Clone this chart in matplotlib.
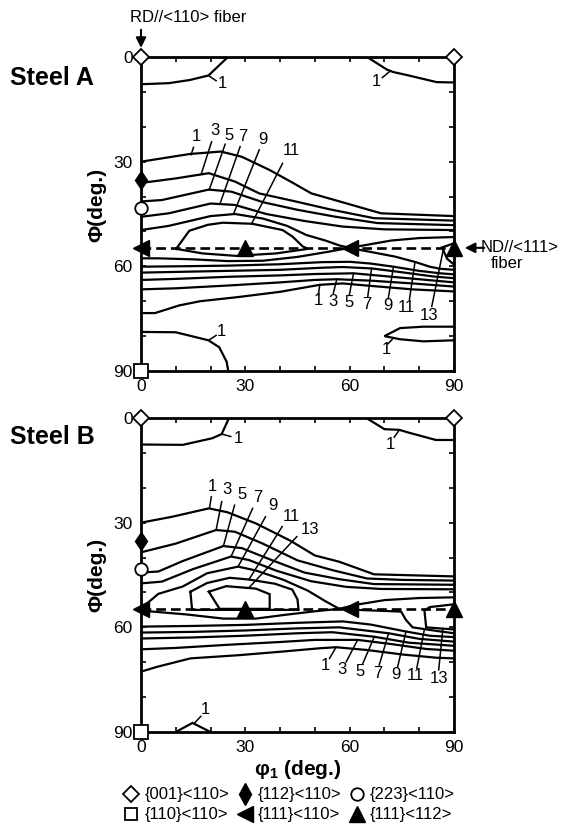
import matplotlib
matplotlib.use('Agg')
import matplotlib.pyplot as plt
from matplotlib.lines import Line2D

plt.rcParams['font.family'] = ['Liberation Sans', 'DejaVu Sans']
plt.rcParams['mathtext.fontset'] = 'custom'
plt.rcParams['mathtext.rm'] = 'Liberation Sans'
plt.rcParams['mathtext.bf'] = 'Liberation Sans:bold'
plt.rcParams['lines.scale_dashes'] = False

# ---------------- data (phi1, PHI) in degrees ----------------
gamma_phi = 54.7
ori_001_110 = [(0, 0), (90, 0)]
ori_112_110 = [(0, 35.3)]
ori_223_110 = [(0, 43.3)]
ori_110_110 = [(0, 90)]
ori_111_110 = [(0, 54.7), (60, 54.7)]
ori_111_112 = [(30, 54.7), (90, 54.7)]

# Steel A contour lines
A_tl1 = [(0, 7.8), (8, 7.5), (14, 6.6), (19.4, 5.3), (25, 0)]
A_tr1 = [(65, 0), (70.7, 3.6), (72.5, 4.3), (77, 5.3), (85, 7.2), (90, 7.3)]
A_bl1 = [(0, 78.8), (10, 78.9), (19.4, 81.2), (22.5, 83.2), (24.6, 87.3), (25.1, 90)]
A_br1 = [(90, 77.3), (81.2, 77.3), (74.5, 77.7), (70, 80.0), (74.5, 80.9), (81.2, 81.5), (90, 81.2)]
A_u1 = [(0, 30.0), (14, 27.8), (23, 27.1), (29, 28.6), (37, 32.4), (43, 35.7), (49, 39.1), (55, 40.8), (69, 44.8), (90, 45.6)]
A_u3 = [(0, 36.1), (10, 34.8), (19.5, 33.3), (27, 35.7), (34, 39.1), (44, 41.3), (54, 43.6), (67, 46.2), (90, 46.9)]
A_u5 = [(0, 41.4), (6, 41.0), (19.5, 38.0), (26, 38.6), (35, 41.6), (45, 43.8), (56, 45.8), (68, 47.6), (90, 48.2)]
A_u7 = [(0, 45.8), (8, 44.8), (20, 42.0), (27, 42.4), (36, 45.0), (47, 47.0), (58, 48.6), (70, 49.4), (90, 49.6)]
A_u9 = [(0, 49.6), (8, 48.4), (20, 45.6), (27, 45.0), (35, 46.3), (42, 48.4), (47.5, 51.0), (53, 52.6), (57, 54.0), (60, 54.7)]
A_11 = [(10.1, 55), (13.9, 49.8), (19.2, 48.1), (23.5, 47.5), (32, 47.8), (40.7, 49.6), (43.6, 51.5), (46.5, 54.3),
        (48, 55), (43, 55.7), (38.8, 56.3), (27.3, 57.0), (17.7, 56.3), (10.1, 55)]
A_xur = [(60, 54.7), (64, 54.0), (72, 52.6), (80, 51.9), (90, 51.6)]
A_xll = [(60, 54.7), (54, 55.8), (45, 57.3), (35, 58.4), (25, 58.5), (15, 58.0), (5, 57.7), (0, 57.7)]
A_xlr = [(60, 54.7), (63, 55.3), (73, 57.2), (79, 58.8), (83, 60.1), (86, 60.7), (90, 61.0)]
A_13 = [(90, 53.4), (86.5, 54.6), (86.9, 55.3), (88, 57.8), (90, 59.5)]
A_l9 = [(0, 60.1), (10, 60.0), (25, 59.8), (40, 59.4), (52, 58.8), (60, 58.7), (66, 59.2), (72.6, 60.1), (80, 61.3), (86, 62.0), (90, 62.3)]
A_l7 = [(0, 61.8), (10, 61.6), (25, 61.3), (40, 61.0), (52, 60.4), (58, 60.2), (66.3, 60.6), (75, 61.7), (84, 62.9), (90, 63.4)]
A_l5 = [(0, 63.9), (10, 63.6), (25, 63.0), (40, 62.6), (50, 62.2), (61.1, 62.0), (70, 62.8), (80, 63.7), (90, 64.6)]
A_l3 = [(0, 66.6), (10, 66.3), (25, 65.5), (40, 64.6), (50, 63.9), (56.3, 63.7), (66, 64.1), (78, 64.9), (90, 65.8)]
A_l1 = [(0, 73.4), (4, 73.4), (11, 71.2), (17, 70.0), (28, 68.8), (40, 67.3), (51.4, 65.3), (58, 64.9), (66, 65.6), (78, 66.6), (90, 67.2)]

# Steel B contour lines
B_tl1 = [(0, 7.6), (12, 7.7), (20.5, 5.8), (23.2, 4.6), (25.3, 0)]
B_tr1 = [(64.8, 0), (70, 3.2), (74.3, 3.4), (77, 4.2), (84.8, 6.3), (90, 6.3)]
B_bl1 = [(10, 90), (14.8, 87.4), (20, 90)]
B_u1 = [(0, 30.0), (9, 28.3), (19.5, 25.9), (24.8, 27.0), (33, 30.2), (43, 35.2), (50, 39.4), (57, 41.2), (67, 44.8), (90, 45.4)]
B_u3 = [(0, 38.5), (10, 36.0), (21.6, 32.1), (27, 32.6), (35, 36.0), (45, 40.8), (55, 43.6), (65, 46.0), (75, 46.4), (90, 46.6)]
B_u5 = [(0, 44.3), (5, 44.0), (12, 41.0), (23.7, 36.7), (29, 37.3), (37, 40.5), (47, 44.3), (57, 46.2), (67, 47.6), (90, 47.8)]
B_u7 = [(0, 47.4), (6, 46.9), (15, 43.3), (25.9, 39.7), (31, 40.7), (39, 43.8), (49, 46.8), (59, 48.4), (69, 49.0), (90, 49.1)]
B_u9 = [(0, 54.7), (2.5, 52.5), (5, 50.4), (12, 48.3), (19, 44.5), (27.9, 42.6), (33, 43.7), (41, 46.4), (48, 49.5), (53, 52.5), (57, 54.7)]
B_11 = [(14.2, 49.8), (19, 47.3), (25.5, 45.8), (31, 46.3), (38.5, 47.5), (43.5, 49.2), (45, 52), (45.3, 55.0), (14.7, 55.0), (14.2, 49.8)]
B_13 = [(19.5, 49.8), (24.5, 48.2), (33, 48.9), (37, 50.5), (37, 54.7), (22.6, 54.7), (19.5, 49.8)]
B_xur = [(57, 54.7), (62, 53.5), (70, 52.2), (80, 51.6), (90, 51.4)]
B_xll = [(57, 54.7), (50, 55.4), (41.6, 56.4), (33, 57.5), (23.7, 57.5), (13, 56.3), (0, 55.2)]
B_r11 = [(57, 54.7), (62, 55.0), (70, 55.3), (74.8, 55.5), (76.2, 57.9), (78.1, 60.0), (84.8, 61.0), (90, 61.7)]
B_r13 = [(90, 53.4), (83, 54.2), (81.5, 55.2), (82, 60.0), (85.8, 60.3), (90, 60.6)]
B_l9 = [(0, 59.8), (15, 59.6), (30, 59.3), (45, 58.7), (58, 58.3), (66, 59.2), (76.2, 61.2), (83, 62.4), (90, 62.8)]
B_l7 = [(0, 61.5), (15, 61.3), (30, 60.9), (45, 60.3), (57, 60.0), (71.2, 61.7), (80, 63.3), (90, 64.1)]
B_l5 = [(0, 63.2), (15, 62.9), (30, 62.4), (45, 61.7), (55, 61.4), (67.1, 62.7), (77, 64.4), (90, 65.3)]
B_l3 = [(0, 66.3), (10, 65.9), (25, 65.0), (40, 64.2), (50, 63.6), (62.3, 63.6), (72, 64.8), (82, 66.2), (90, 66.7)]
B_l1 = [(0, 72.7), (4.7, 71.3), (14.2, 68.9), (27.9, 68.0), (40, 67.0), (51.4, 66.0), (56.1, 65.7), (65, 66.5), (75.3, 67.8), (84.8, 68.7), (90, 68.9)]

steelA_lines = [A_tl1, A_tr1, A_bl1, A_br1, A_u1, A_u3, A_u5, A_u7, A_u9, A_11, A_xur, A_xll, A_xlr, A_13,
                A_l9, A_l7, A_l5, A_l3, A_l1]
steelB_lines = [B_tl1, B_tr1, B_bl1, B_u1, B_u3, B_u5, B_u7, B_u9, B_11, B_13, B_xur, B_xll, B_r11, B_r13,
                B_l9, B_l7, B_l5, B_l3, B_l1]

# contour level labels: (text, label position, leader start, leader end)
A_labels = [
    ('1', (23.5, 7.5), (21.6, 6.8), (19.4, 5.3)),
    ('1', (67.6, 7.1), (69.4, 5.9), (71.7, 4.0)),
    ('1', (23.2, 78.7), (21.6, 79.8), (19.4, 81.2)),
    ('1', (70.5, 83.8), (71.0, 82.2), (72.2, 81.0)),
    ('1', (16.0, 22.8), (15.1, 25.9), (14.4, 28.0)),
    ('3', (21.3, 21.2), (20.3, 24.3), (17.3, 33.6)),
    ('5', (25.3, 22.4), (24.2, 25.0), (19.6, 38.1)),
    ('7', (29.4, 22.8), (28.5, 25.7), (22.7, 42.1)),
    ('9', (35.2, 23.6), (34.0, 26.6), (26.6, 45.0)),
    ('11', (43.3, 26.9), (40.7, 30.5), (31.8, 47.8)),
    ('1', (51.0, 69.8), (51.0, 68.2), (51.4, 65.3)),
    ('3', (55.1, 70.0), (55.3, 67.7), (56.3, 63.7)),
    ('5', (59.9, 70.5), (59.9, 68.2), (61.1, 62.0)),
    ('7', (64.9, 70.8), (65.2, 68.7), (66.3, 60.6)),
    ('9', (70.9, 71.3), (71.1, 69.2), (72.6, 60.1)),
    ('11', (76.4, 71.7), (77.2, 69.4), (78.8, 58.7)),
    ('13', (82.9, 74.1), (83.6, 71.5), (86.9, 55.3)),
]
B_labels = [
    ('1', (27.9, 5.8), (25.8, 5.3), (23.2, 4.6)),
    ('1', (71.6, 7.5), (72.8, 5.5), (74.3, 3.4)),
    ('1', (18.4, 83.5), (17.2, 85.5), (15.5, 87.3)),
    ('1', (20.5, 19.5), (20.2, 22.6), (19.7, 25.9)),
    ('3', (24.8, 20.4), (23.2, 24.0), (21.6, 32.1)),
    ('5', (29.1, 21.9), (26.9, 25.0), (23.7, 36.7)),
    ('7', (33.5, 22.8), (32.1, 25.9), (25.9, 39.7)),
    ('9', (38.0, 25.2), (35.8, 28.3), (27.9, 42.6)),
    ('11', (43.2, 28.1), (40.6, 31.1), (31.1, 46.2)),
    ('13', (48.5, 31.9), (44.8, 34.0), (31.1, 48.6)),
    ('1', (53.0, 71.0), (54.2, 68.9), (56.1, 65.7)),
    ('3', (57.8, 72.2), (59.0, 69.9), (62.3, 63.6)),
    ('5', (63.1, 72.7), (63.8, 70.3), (67.1, 62.7)),
    ('7', (68.1, 73.1), (68.5, 70.8), (71.2, 61.7)),
    ('9', (73.3, 73.6), (73.8, 71.3), (76.2, 61.2)),
    ('11', (78.9, 73.8), (79.3, 71.7), (81.5, 60.5)),
    ('13', (85.6, 74.8), (85.6, 72.2), (86.8, 60.4)),
]

tick_positions = list(range(0, 91, 10))
tick_labels = ['0' if t == 0 else (str(t) if t % 30 == 0 else '') for t in tick_positions]

legend_labels = ['{001}<110>', '{110}<110>', '{112}<110>', '{111}<110>', '{223}<110>', '{111}<112>']

# ---------------- figure ----------------
W, H = 576, 834
fig = plt.figure(figsize=(W / 100, H / 100), dpi=100)


def px_axes(left, top, right, bottom):
    return fig.add_axes([left / W, 1 - bottom / H, (right - left) / W, (bottom - top) / H])


def draw_panel(ax, lines, labels, ylabel_y):
    ax.set_xlim(0, 90)
    ax.set_ylim(90, 0)
    for ln in lines:
        xs = [p[0] for p in ln]
        ys = [p[1] for p in ln]
        ax.plot(xs, ys, color='black', lw=1.6, solid_joinstyle='miter', zorder=2)
    for txt, pos, l0, l1 in labels:
        ax.plot([l0[0], l1[0]], [l0[1], l1[1]], color='black', lw=1.1, zorder=2)
        ax.text(pos[0], pos[1], txt, ha='center', va='center', fontsize=12, zorder=3)
    # gamma fibre dashed line
    ax.plot([0, 90], [gamma_phi, gamma_phi], color='black', lw=1.9, dashes=(7, 3.6), zorder=3)
    # ideal orientations
    kw = dict(clip_on=False, zorder=5, linestyle='none')
    ax.plot(*zip(*ori_001_110), marker='D', ms=7.8, mfc='white', mec='black', mew=1.3, **kw)
    ax.plot(*zip(*ori_112_110), marker='d', ms=9.5, mfc='black', mec='black', **kw)
    ax.plot(*zip(*ori_223_110), marker='o', ms=9, mfc='white', mec='black', mew=1.3, **kw)
    ax.plot(*zip(*ori_110_110), marker='s', ms=9.5, mfc='white', mec='black', mew=1.3, **kw)
    ax.plot(*zip(*ori_111_110), marker='<', ms=11.5, mfc='black', mec='black', **kw)
    ax.plot(*zip(*ori_111_112), marker='^', ms=11.5, mfc='black', mec='black', **kw)

    ax.set_xticks(tick_positions)
    ax.set_xticklabels(tick_labels)
    ax.set_yticks(tick_positions)
    ax.set_yticklabels(tick_labels)
    ax.tick_params(direction='in', length=3.5, width=1.2, top=True, right=True, labelsize=12.5, pad=6)
    for sp in ax.spines.values():
        sp.set_linewidth(2.0)
    ax.set_ylabel('Φ(deg.)', fontsize=15, fontweight='bold')
    ax.yaxis.set_label_coords(-0.112, ylabel_y)


axA = px_axes(141, 57, 454, 371)
draw_panel(axA, steelA_lines, A_labels, 0.53)
axB = px_axes(141, 418, 454, 732)
draw_panel(axB, steelB_lines, B_labels, 0.50)
axB.set_xlabel('φ$_{\\mathbf{1}}$ (deg.)', fontsize=15, fontweight='bold', labelpad=2)

fig.text(52 / W, 1 - 78 / H, 'Steel A', ha='center', va='center', fontsize=18, fontweight='bold')
fig.text(52 / W, 1 - 437 / H, 'Steel B', ha='center', va='center', fontsize=18, fontweight='bold')

# fibre annotations
fig.text(188 / W, 1 - 18 / H, 'RD//<110> fiber', ha='center', va='center', fontsize=12)
axA.annotate('', xy=(0, -1.8), xytext=(0, -8.6), xycoords='data', textcoords='data',
             arrowprops=dict(arrowstyle='-|>', color='black', lw=1.5, mutation_scale=15), annotation_clip=False)
fig.text(481 / W, 1 - 248 / H, 'ND//<111>', ha='left', va='center', fontsize=12)
fig.text(491 / W, 1 - 264 / H, 'fiber', ha='left', va='center', fontsize=12)
axA.annotate('', xy=(92.3, gamma_phi), xytext=(99.5, gamma_phi), xycoords='data', textcoords='data',
             arrowprops=dict(arrowstyle='-|>', color='black', lw=1.5, mutation_scale=15), annotation_clip=False)

# legend
handles = [
    Line2D([], [], ls='none', marker='D', ms=8, mfc='white', mec='black', mew=1.3),
    Line2D([], [], ls='none', marker='s', ms=9, mfc='white', mec='black', mew=1.3),
    Line2D([], [], ls='none', marker='d', ms=11, mfc='black', mec='black'),
    Line2D([], [], ls='none', marker='<', ms=11, mfc='black', mec='black'),
    Line2D([], [], ls='none', marker='o', ms=9, mfc='white', mec='black', mew=1.3),
    Line2D([], [], ls='none', marker='^', ms=11, mfc='black', mec='black'),
]
fig.legend(handles, legend_labels, ncol=3, loc='center', bbox_to_anchor=(289 / W, 1 - 805 / H),
           frameon=False, fontsize=12, handlelength=1.0, handletextpad=0.3, columnspacing=0.4,
           labelspacing=0.3, borderpad=0, borderaxespad=0)

fig.savefig('out.png', dpi=100)
